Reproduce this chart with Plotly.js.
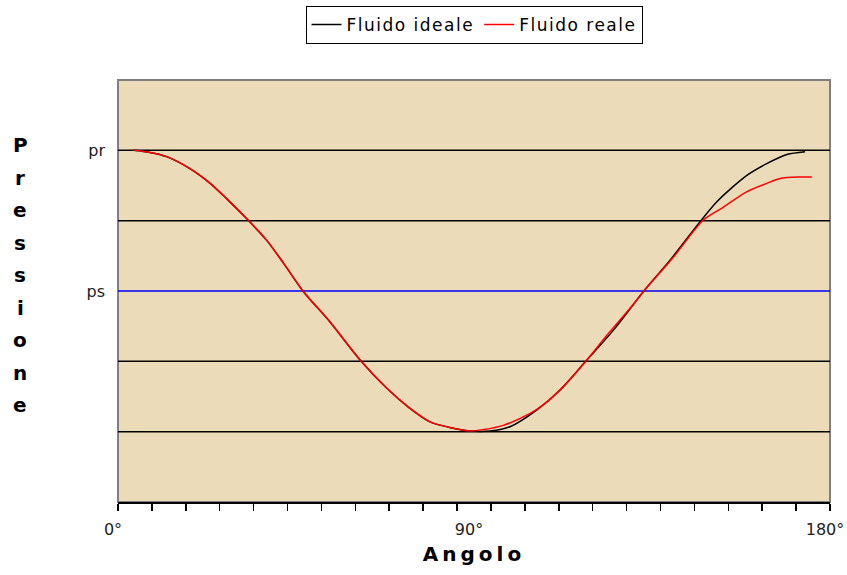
<!DOCTYPE html>
<html>
<head>
<meta charset="utf-8">
<script src="https://cdn.plot.ly/plotly-3.0.1.min.js"></script>
<style>
  html, body { margin: 0; padding: 0; background: #ffffff; }
  #chart { width: 847px; height: 575px; }
  .xtitle { letter-spacing: 4px; }
  .legendtext { letter-spacing: 1.5px; }
</style>
</head>
<body>
<div id="chart"></div>
<script>
// ---- data ----
const idealAngle = [3.9, 8.1, 12.3, 18.2, 23.3, 27.5, 32.5, 37.6, 41.8, 46.9, 53.6, 61.2, 67.9, 73.4, 78.9, 83.9, 89.0, 94.1, 99.1, 105.9, 111.7, 118.1, 125.2, 132.8, 139.6, 147.1, 151.4, 158.9, 164.0, 169.1, 173.7];
const idealP     = [5.00, 4.97, 4.91, 4.74, 4.53, 4.31, 4.03, 3.72, 3.40, 2.99, 2.56, 2.02, 1.62, 1.35, 1.14, 1.06, 1.01, 1.01, 1.07, 1.31, 1.59, 1.99, 2.44, 2.99, 3.44, 3.98, 4.27, 4.64, 4.81, 4.94, 4.98];

const realAngle = [3.9, 8.1, 12.3, 18.2, 23.3, 27.5, 32.5, 37.6, 41.8, 46.9, 53.6, 61.2, 67.9, 73.4, 78.9, 83.9, 89.0, 92.4, 97.4, 104.2, 107.5, 112.6, 118.1, 123.6, 129.4, 132.8, 140.4, 148.0, 153.0, 158.9, 164.0, 167.4, 172.4, 175.4];
const realP     = [5.00, 4.97, 4.91, 4.74, 4.53, 4.31, 4.03, 3.72, 3.40, 2.99, 2.56, 2.02, 1.62, 1.35, 1.14, 1.06, 1.01, 1.03, 1.09, 1.26, 1.38, 1.64, 1.99, 2.37, 2.75, 2.99, 3.48, 4.01, 4.19, 4.41, 4.53, 4.60, 4.62, 4.62];

const seriesNames = ['Fluido ideale', 'Fluido reale'];
const xTickVals = [0, 90, 180];
const xTickText = ['0°', '90°', '180°'];
const yTickVals = [3, 5];
const yTickText = ['ps', 'pr'];
const gridLevels = [1, 2, 4, 5];
const psLevel = 3;
const xTitle = 'Angolo';
const yTitle = 'Pressione';

// ---- plot ----
const font = 'DejaVu Sans, Arial, sans-serif';
const traces = [
  { x: idealAngle, y: idealP, type: 'scatter', mode: 'lines', name: seriesNames[0],
    line: { color: '#000000', width: 1.5, shape: 'spline', smoothing: 0.8 }, hoverinfo: 'skip' },
  { x: realAngle, y: realP, type: 'scatter', mode: 'lines', name: seriesNames[1],
    line: { color: '#ff0000', width: 1.5, shape: 'spline', smoothing: 0.8 }, hoverinfo: 'skip' }
];

const L = 118, R = 17, T = 80, B = 73;
const plotW = 847 - L - R, plotH = 575 - T - B;
const letters = yTitle.split('');
const annotations = letters.map((ch, i) => ({
  text: '<b>' + ch + '</b>', xref: 'paper', yref: 'paper',
  x: (20 - L) / plotW, y: (502 - (145 + i * 32.5)) / plotH,
  xanchor: 'center', yanchor: 'middle', showarrow: false,
  font: { family: font, size: 20, color: '#000' }
}));

const shapes = [
  { type: 'rect', xref: 'paper', yref: 'paper', x0: 0, x1: 1, y0: 0, y1: 1,
    line: { color: '#808080', width: 2 }, layer: 'below' }
].concat(gridLevels.map(v => ({
  type: 'line', xref: 'paper', yref: 'y', x0: 0, x1: 1, y0: v, y1: v,
  line: { color: '#000000', width: 1.5 }, layer: 'below'
}))).concat([{
  type: 'line', xref: 'paper', yref: 'y', x0: 0, x1: 1, y0: psLevel, y1: psLevel,
  line: { color: '#0000ff', width: 1.5 }, layer: 'below'
}]);

const layout = {
  width: 847, height: 575,
  margin: { l: L, r: R, t: T, b: B, autoexpand: false },
  paper_bgcolor: '#ffffff',
  plot_bgcolor: '#ecdbb8',
  showlegend: true,
  legend: {
    orientation: 'h', x: 0.5, xanchor: 'center', y: 1 + (80 - 6) / plotH, yanchor: 'top',
    bgcolor: '#ffffff', bordercolor: '#000000', borderwidth: 1,
    font: { family: font, size: 17, color: '#000' },
    itemwidth: 30, tracegroupgap: 0
  },
  xaxis: {
    range: [0, 180], fixedrange: true,
    tickmode: 'array', tickvals: xTickVals, ticktext: xTickText,
    ticks: '', ticklabelstandoff: 12, ticklabelshift: -5, ticklabeloverflow: 'allow',
    tickfont: { family: font, size: 16, color: '#222' },
    minor: { tickmode: 'linear', tick0: 0, dtick: 180 / 21, ticks: 'outside', ticklen: 7, tickwidth: 1.5, tickcolor: '#000', showgrid: false },
    showgrid: false, zeroline: false,
    showline: true, linecolor: '#000000', linewidth: 1.5,
    title: { text: '<b>' + xTitle + '</b>', standoff: 9, font: { family: font, size: 20, color: '#000' } }
  },
  yaxis: {
    range: [0, 6], fixedrange: true,
    tickmode: 'array', tickvals: yTickVals, ticktext: yTickText,
    ticks: '', ticklabelstandoff: 12,
    tickfont: { family: font, size: 16, color: '#222' },
    showgrid: false, zeroline: false, showline: false
  },
  shapes: shapes,
  annotations: annotations
};

Plotly.newPlot('chart', traces, layout, { staticPlot: true, displayModeBar: false });
</script>
</body>
</html>
